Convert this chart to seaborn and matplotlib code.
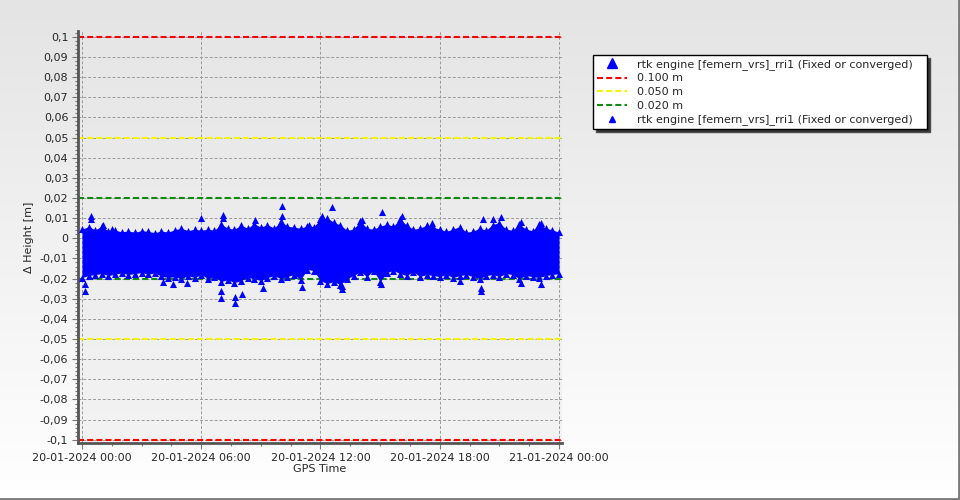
#!/usr/bin/env python3

# Import libraries
import numpy as np
import pandas as pd
import matplotlib
matplotlib.use("Agg")
import matplotlib.pyplot as plt
from matplotlib.colors import LinearSegmentedColormap
from matplotlib.dates import DateFormatter
from matplotlib.lines import Line2D
from matplotlib.ticker import AutoMinorLocator, FuncFormatter, MultipleLocator
import seaborn as sns

# Data (heights in metres)
start = pd.Timestamp("2024-01-20 00:00")
series_name = "rtk engine [femern_vrs]_rri1 (Fixed or converged)"

# outline of the dense cloud, one value every 20 minutes
band_upper = [0.0045, 0.0058, 0.0042, 0.0060, 0.0035, 0.0040, 0.0032, 0.0036, 0.0030,
              0.0038, 0.0034, 0.0028, 0.0036, 0.0031, 0.0042, 0.0050, 0.0038, 0.0045,
              0.0040, 0.0045, 0.0040, 0.0070, 0.0050, 0.0045, 0.0065, 0.0050, 0.0072,
              0.0055, 0.0068, 0.0050, 0.0085, 0.0060, 0.0055, 0.0050, 0.0062, 0.0058,
              0.0095, 0.0100, 0.0080, 0.0065, 0.0040, 0.0045, 0.0085, 0.0050, 0.0045,
              0.0060, 0.0070, 0.0060, 0.0095, 0.0065, 0.0045, 0.0050, 0.0065, 0.0055,
              0.0045, 0.0035, 0.0045, 0.0058, 0.0030, 0.0035, 0.0050, 0.0040, 0.0068,
              0.0078, 0.0045, 0.0040, 0.0070, 0.0045, 0.0038, 0.0072, 0.0050, 0.0042,
              0.0030]
band_lower = [-0.0195, -0.0185, -0.0180, -0.0175, -0.0185, -0.0178, -0.0172, -0.0180, -0.0175,
              -0.0170, -0.0178, -0.0172, -0.0188, -0.0195, -0.0190, -0.0200, -0.0185, -0.0195,
              -0.0180, -0.0200, -0.0190, -0.0215, -0.0205, -0.0220, -0.0210, -0.0195, -0.0200,
              -0.0210, -0.0195, -0.0185, -0.0200, -0.0190, -0.0180, -0.0205, -0.0155, -0.0160,
              -0.0210, -0.0225, -0.0215, -0.0230, -0.0200, -0.0185, -0.0165, -0.0190, -0.0160,
              -0.0215, -0.0170, -0.0160, -0.0175, -0.0185, -0.0165, -0.0190, -0.0180, -0.0185,
              -0.0190, -0.0180, -0.0195, -0.0185, -0.0180, -0.0190, -0.0200, -0.0185, -0.0180,
              -0.0190, -0.0175, -0.0180, -0.0200, -0.0185, -0.0190, -0.0195, -0.0185, -0.0180,
              -0.0175]

# single triangles sticking out of the cloud (hours after start, height)
spike_hours = [0.44, 0.44, 1.06, 1.5, 6.0, 7.1, 7.1, 8.7, 10.06, 10.06, 11.4, 12.1, 12.6,
               14.07, 15.1, 16.1, 17.6, 20.2, 20.7, 21.07, 22.1, 23.1,
               0.13, 0.13, 4.07, 4.6, 5.3, 7.0, 7.0, 7.7, 7.7, 8.05, 9.1, 11.07, 13.07,
               13.07, 15.06, 19.0, 20.07, 20.07, 22.07, 23.1]
spike_dh = [0.0110, 0.0095, 0.0065, 0.0045, 0.0103, 0.0114, 0.0100, 0.0093, 0.0159, 0.0112,
            0.0068, 0.0110, 0.0154, 0.0093, 0.0131, 0.0110, 0.0077, 0.0096, 0.0096, 0.0104,
            0.0082, 0.0078,
            -0.0228, -0.0260, -0.0218, -0.0225, -0.0220, -0.0260, -0.0297, -0.0290, -0.0319,
            -0.0278, -0.0248, -0.0240, -0.0253, -0.0238, -0.0228, -0.0212, -0.0245, -0.0261,
            -0.0220, -0.0225]

limit_values = [0.100, 0.050, 0.020]
limit_colors = ["#ff0000", "#f5f500", "#118a11"]
limit_labels = ["0.100 m", "0.050 m", "0.020 m"]

# Build tables
band = pd.DataFrame({"time": pd.date_range(start, periods=len(band_upper), freq="20min"),
                     "hi": band_upper, "lo": band_lower})
spikes = pd.DataFrame({"time": start + pd.to_timedelta(spike_hours, unit="h"), "dh": spike_dh})
points = pd.concat([band[["time", "hi"]].rename(columns={"hi": "dh"}),
                    band[["time", "lo"]].rename(columns={"lo": "dh"}),
                    spikes], ignore_index=True)

sns.set_style("ticks")
plt.rcParams["font.family"] = ["DejaVu Sans"]
plt.rcParams["font.size"] = 8

fig = plt.figure(figsize=(9.6, 5), dpi=100)

# background gradients
grad = np.linspace(0, 1, 256).reshape(-1, 1)
bg = fig.add_axes([0, 0, 1, 1], zorder=-10)
bg.imshow(grad, aspect="auto", extent=[0, 1, 0, 1],
          cmap=LinearSegmentedColormap.from_list("bg", ["#e4e4e4", "#ffffff"]))
bg.axis("off")

rect = [78 / 960, 57 / 500, 484 / 960, 412 / 500]
pa = fig.add_axes(rect, zorder=-5)
pa.imshow(grad, aspect="auto", extent=[0, 1, 0, 1],
          cmap=LinearSegmentedColormap.from_list("pa", ["#e6e6e6", "#f3f3f3"]))
pa.axis("off")

ax = fig.add_axes(rect)
ax.set_facecolor("none")

# threshold lines
for v, c in zip(limit_values, limit_colors):
    for s in (1, -1):
        ax.axhline(s * v, color=c, lw=1.5, ls=(0, (2.9, 1.5)), zorder=2)

# cloud of points
ax.fill_between(band["time"], band["lo"], band["hi"], color="#0000ff", lw=0, zorder=3)
sns.scatterplot(data=points, x="time", y="dh", marker="^", s=26, color="#0000ff",
                linewidth=0, legend=False, ax=ax, zorder=4)

# axes
ax.set_xlim(start - pd.Timedelta(hours=0.2), start + pd.Timedelta(hours=24.15))
ax.set_ylim(-0.1016, 0.1029)
ax.xaxis.set_major_locator(MultipleLocator(0.25))
ax.xaxis.set_minor_locator(MultipleLocator(0.0625))
ax.xaxis.set_major_formatter(DateFormatter("%d-%m-%Y %H:%M"))
ax.yaxis.set_major_locator(MultipleLocator(0.01))
ax.yaxis.set_minor_locator(AutoMinorLocator(5))
ax.yaxis.set_major_formatter(FuncFormatter(
    lambda v, p: "0" if abs(v) < 1e-9 else f"{round(v, 2):g}".replace(".", ",")))

ax.grid(True, which="major", color="#9a9a9a", ls=(0, (3, 2)), lw=0.7, zorder=1)
for side in ["top", "right"]:
    ax.spines[side].set_visible(False)
for side in ["left", "bottom"]:
    ax.spines[side].set_color("#555555")
    ax.spines[side].set_linewidth(2)
ax.tick_params(which="major", length=4, width=0.8, color="#777777", labelsize=8, pad=3)
ax.tick_params(which="minor", length=2, width=0.8, color="#777777")

ax.set_xlabel("GPS Time", fontsize=8, labelpad=1)
ax.set_ylabel("Δ Height [m]", fontsize=8, labelpad=4)

# Legend
handles = [Line2D([], [], marker="^", ls="none", color="#0000ff", markersize=7)]
handles += [Line2D([], [], color=c, lw=1.5, ls=(0, (2.9, 1.5))) for c in limit_colors]
handles += [Line2D([], [], marker="^", ls="none", color="#0000ff", markersize=5)]
labels = [series_name + "   "] + limit_labels + [series_name]
fig.legend(handles, labels, loc="upper left", bbox_to_anchor=(593 / 960, 1 - 55 / 500),
           frameon=True, fancybox=False, edgecolor="black", framealpha=1, fontsize=8,
           shadow={"ox": 2.2, "oy": -2.2, "facecolor": "#333333", "alpha": 1},
           borderpad=0.35, labelspacing=0.33, handlelength=2.7, handletextpad=0.9,
           borderaxespad=0)

# frame of the picture (right and bottom edge)
fig.add_artist(Line2D([0.999, 0.999], [0, 1], transform=fig.transFigure, color="#7a7a7a", lw=2))
fig.add_artist(Line2D([0, 1], [0.002, 0.002], transform=fig.transFigure, color="#7a7a7a", lw=2))

# Save figure
plt.savefig("out.png", dpi=100)
